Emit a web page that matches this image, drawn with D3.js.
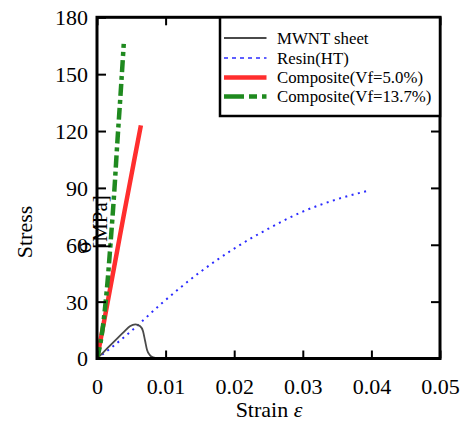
<!DOCTYPE html>
<html>
<head>
<meta charset="utf-8">
<script src="https://cdn.jsdelivr.net/npm/d3@7"></script>
<style>
  html, body { margin: 0; padding: 0; background: #fff; }
  svg { display: block; }
  text { font-family: "Liberation Serif", "Times New Roman", serif; fill: #000; }
</style>
</head>
<body>
<svg id="chart" width="461" height="423"></svg>
<script>
// Stress–strain curves: [strain, stress in MPa]
const mwntSheet = [
  [0, 0], [0.001, 3.5], [0.002, 7.2], [0.003, 10.8], [0.004, 14.3], [0.0048, 17.0],
  [0.0056, 18.0], [0.0063, 17.0], [0.0067, 14.5], [0.007, 9.5], [0.0073, 4.5],
  [0.0077, 1.8], [0.0082, 0.6], [0.0088, 0]
];
const resinHT = [
  [0, 0], [0.002, 5.5], [0.005, 14.5], [0.0094, 29], [0.015, 45.5], [0.02, 58],
  [0.025, 68.5], [0.03, 77.5], [0.035, 84], [0.0395, 88.5]
];
const compositeVf50 = [
  [0, 0], [0.001, 19], [0.002, 38.5], [0.003, 58], [0.004, 77.5], [0.005, 96.5],
  [0.006, 115.5], [0.0064, 123]
];
const compositeVf137 = [
  [0, 0], [0.0005, 8], [0.001, 21], [0.0015, 39], [0.002, 62], [0.0025, 87],
  [0.003, 116], [0.0035, 143], [0.0039, 166]
];

const seriesNames = ["MWNT sheet", "Resin(HT)", "Composite(Vf=5.0%)", "Composite(Vf=13.7%)"];
const xTicks = [0, 0.01, 0.02, 0.03, 0.04, 0.05];
const xTickLabels = ["0", "0.01", "0.02", "0.03", "0.04", "0.05"];
const yTicks = [0, 30, 60, 90, 120, 150, 180];
const yTickLabels = ["0", "30", "60", "90", "120", "150", "180"];

const styles = [
  { color: "#4a4a4a", width: 1.8, dash: null },
  { color: "#2b2bff", width: 2, dash: "2,4.5" },
  { color: "#ff2e2e", width: 4.5, dash: null },
  { color: "#1f8a1f", width: 4.5, dash: "12,4,4,4" }
];
const seriesData = [mwntSheet, resinHT, compositeVf50, compositeVf137];

const svg = d3.select("#chart");
const plotLeft = 97, plotRight = 440, plotTop = 17.3, plotBottom = 358.5;

const x = d3.scaleLinear().domain([0, 0.05]).range([plotLeft, plotRight]);
const y = d3.scaleLinear().domain([0, 180]).range([plotBottom, plotTop]);

svg.append("defs").append("clipPath").attr("id", "plotClip")
  .append("rect").attr("x", plotLeft).attr("y", plotTop - 5)
  .attr("width", plotRight - plotLeft).attr("height", plotBottom - plotTop + 5);

// curves
const line = d3.line().x(d => x(d[0])).y(d => y(d[1])).curve(d3.curveMonotoneX);
const curves = svg.append("g").attr("clip-path", "url(#plotClip)");
// draw order: resin, MWNT, red composite, green composite
[1, 0, 2, 3].forEach(i => {
  curves.append("path")
    .datum(seriesData[i])
    .attr("d", line)
    .attr("fill", "none")
    .attr("stroke", styles[i].color)
    .attr("stroke-width", styles[i].width)
    .attr("stroke-dasharray", styles[i].dash)
    .attr("stroke-linejoin", "round");
});

// axes with inward ticks
const fmtX = v => xTickLabels[xTicks.indexOf(v)];
const fmtY = v => yTickLabels[yTicks.indexOf(v)];

const gx = svg.append("g").attr("transform", `translate(0,${plotBottom})`)
  .call(d3.axisBottom(x).tickValues(xTicks).tickFormat(fmtX).tickSize(-8).tickPadding(20));
const gxTop = svg.append("g").attr("transform", `translate(0,${plotTop})`)
  .call(d3.axisTop(x).tickValues(xTicks).tickFormat("").tickSize(-8));
const gy = svg.append("g").attr("transform", `translate(${plotLeft},0)`)
  .call(d3.axisLeft(y).tickValues(yTicks).tickFormat(fmtY).tickSize(-9).tickPadding(9));
const gyRight = svg.append("g").attr("transform", `translate(${plotRight},0)`)
  .call(d3.axisRight(y).tickValues(yTicks).tickFormat("").tickSize(-9));

[gx, gxTop, gy, gyRight].forEach(g => {
  g.select(".domain").remove();
  g.selectAll(".tick line").attr("stroke", "#000").attr("stroke-width", 2);
  g.selectAll("text").style("font-family", "Liberation Serif, serif").style("font-size", "22px").attr("fill", "#000");
});
gy.selectAll(".tick text").attr("dy", "0.34em");

// frame
svg.append("rect")
  .attr("x", plotLeft).attr("y", plotTop)
  .attr("width", plotRight - plotLeft).attr("height", plotBottom - plotTop)
  .attr("fill", "none").attr("stroke", "#000").attr("stroke-width", 3);

// axis titles
svg.append("text")
  .attr("x", 269).attr("y", 417)
  .attr("text-anchor", "middle")
  .style("font-size", "22px")
  .text("Strain ")
  .append("tspan").style("font-style", "italic").text("ε");

svg.append("text")
  .attr("transform", "translate(32,232) rotate(-90)")
  .attr("text-anchor", "middle")
  .style("font-size", "22px")
  .text("Stress");

svg.append("text")
  .attr("transform", "translate(107,222) rotate(-90)")
  .attr("text-anchor", "middle")
  .style("font-size", "21px")
  .text("[MPa]");
svg.append("text")
  .attr("transform", "translate(91,247) rotate(-90)")
  .attr("text-anchor", "middle")
  .style("font-size", "23px")
  .text("σ");

// legend
const legX = 220, legY = plotTop, legW = plotRight - legX, legH = 116 - plotTop;
const legend = svg.append("g");
legend.append("rect")
  .attr("x", legX).attr("y", legY).attr("width", legW).attr("height", legH)
  .attr("fill", "#fff").attr("stroke", "#000").attr("stroke-width", 2.5);

const rowY = [38, 58, 77.5, 96.5];
seriesNames.forEach((name, i) => {
  const s = styles[i];
  const sampleDash = i === 3 ? "20,5,8,5" : (i === 1 ? "4,4" : null);
  legend.append("line")
    .attr("x1", 224).attr("x2", 266.5)
    .attr("y1", rowY[i]).attr("y2", rowY[i])
    .attr("stroke", s.color)
    .attr("stroke-width", i === 1 ? 1.5 : s.width)
    .attr("stroke-dasharray", sampleDash);
  legend.append("text")
    .attr("x", 277).attr("y", rowY[i])
    .attr("dy", "0.33em")
    .style("font-size", "16.8px")
    .text(name);
});
</script>
</body>
</html>
